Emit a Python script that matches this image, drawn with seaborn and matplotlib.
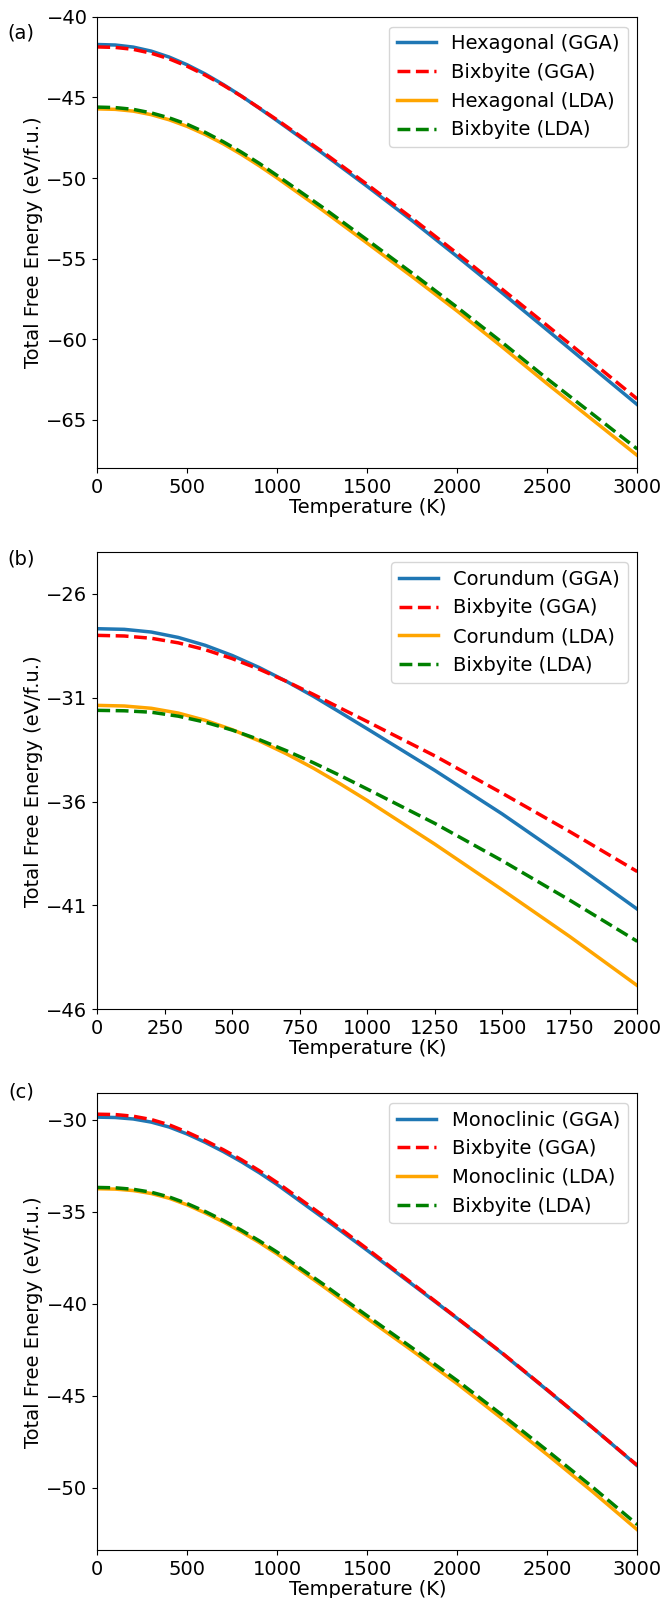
import matplotlib
matplotlib.use("Agg")
import matplotlib.pyplot as plt
import numpy as np
import seaborn as sns

# temperatures (K)
T_a = [0, 100, 200, 300, 400, 500, 600, 700, 800, 900, 1000, 1250, 1500, 1750, 2000, 2250, 2500, 2750, 3000]
T_b = [0, 100, 200, 300, 400, 500, 600, 700, 800, 900, 1000, 1250, 1500, 1750, 2000]
T_c = T_a

# (a) Hexagonal vs Bixbyite
hex_gga = [-41.72, -41.75, -41.88, -42.13, -42.50, -42.98, -43.55, -44.20, -44.91, -45.67, -46.45,
           -48.45, -50.52, -52.65, -54.87, -57.13, -59.43, -61.74, -64.05]
bix_gga_a = [-41.87, -41.90, -42.02, -42.26, -42.61, -43.07, -43.62, -44.24, -44.92, -45.65, -46.40,
             -48.36, -50.40, -52.50, -54.68, -56.90, -59.15, -61.42, -63.70]
hex_lda = [-45.71, -45.74, -45.85, -46.07, -46.39, -46.80, -47.30, -47.88, -48.53, -49.24, -50.00,
           -51.98, -54.04, -56.12, -58.25, -60.48, -62.76, -64.98, -67.20]
bix_lda_a = [-45.60, -45.63, -45.74, -45.96, -46.27, -46.67, -47.17, -47.75, -48.39, -49.09, -49.85,
             -51.80, -53.84, -55.90, -58.02, -60.20, -62.45, -64.62, -66.80]

# (b) Corundum vs Bixbyite
cor_gga = [-27.68, -27.71, -27.84, -28.10, -28.48, -28.97, -29.55, -30.21, -30.93, -31.71, -32.50,
           -34.50, -36.60, -38.85, -41.18]
bix_gga_b = [-28.00, -28.03, -28.14, -28.36, -28.69, -29.12, -29.63, -30.21, -30.84, -31.50, -32.15,
             -33.80, -35.60, -37.45, -39.37]
cor_lda = [-31.37, -31.40, -31.51, -31.74, -32.09, -32.54, -33.08, -33.70, -34.39, -35.15, -35.95,
           -38.05, -40.25, -42.50, -44.86]
bix_lda_b = [-31.61, -31.63, -31.70, -31.89, -32.18, -32.56, -33.02, -33.55, -34.13, -34.75, -35.40,
             -37.05, -38.85, -40.75, -42.73]

# (c) Monoclinic vs Bixbyite
mono_gga = [-29.86, -29.88, -29.96, -30.13, -30.40, -30.78, -31.23, -31.73, -32.28, -32.88, -33.53,
            -35.30, -37.10, -38.95, -40.80, -42.70, -44.70, -46.72, -48.80]
bix_gga_c = [-29.70, -29.72, -29.81, -29.99, -30.28, -30.68, -31.13, -31.63, -32.17, -32.77, -33.42,
             -35.18, -37.02, -38.90, -40.78, -42.68, -44.68, -46.72, -48.78]
mono_lda = [-33.75, -33.77, -33.85, -34.01, -34.27, -34.63, -35.07, -35.55, -36.09, -36.67, -37.30,
            -39.02, -40.80, -42.55, -44.35, -46.25, -48.20, -50.20, -52.28]
bix_lda_c = [-33.68, -33.70, -33.78, -33.94, -34.20, -34.56, -34.99, -35.47, -36.00, -36.58, -37.20,
             -38.90, -40.66, -42.40, -44.18, -46.05, -47.98, -49.95, -52.00]

plt.rcParams['font.family'] = ['DejaVu Sans']
plt.rcParams['font.size'] = 14

fig = plt.figure(figsize=(6.64, 15.98), dpi=100)
ax_a = fig.add_axes([0.1465, 0.7069, 0.8133, 0.2826])
ax_b = fig.add_axes([0.1465, 0.3684, 0.8133, 0.2860])
ax_c = fig.add_axes([0.1465, 0.0298, 0.8133, 0.2862])

panels = [
    (ax_a, T_a, "Hexagonal", hex_gga, bix_gga_a, hex_lda, bix_lda_a),
    (ax_b, T_b, "Corundum", cor_gga, bix_gga_b, cor_lda, bix_lda_b),
    (ax_c, T_c, "Monoclinic", mono_gga, bix_gga_c, mono_lda, bix_lda_c),
]

lw = 2.5
for ax, T, name, g1, g2, l1, l2 in panels:
    sns.lineplot(x=T, y=g1, ax=ax, color='#1f77b4', lw=lw, label=name + ' (GGA)')
    sns.lineplot(x=T, y=g2, ax=ax, color='red', lw=lw, ls='--', label='Bixbyite (GGA)')
    sns.lineplot(x=T, y=l1, ax=ax, color='orange', lw=lw, label=name + ' (LDA)')
    sns.lineplot(x=T, y=l2, ax=ax, color='green', lw=lw, ls='--', label='Bixbyite (LDA)')
    ax.set_xlim(0, T[-1])
    ax.set_xlabel('Temperature (K)', fontsize=14, labelpad=0.5)
    ax.set_ylabel('Total Free Energy (eV/f.u.)', fontsize=14)
    ax.yaxis.set_label_coords(-0.10, 0.5)
    ax.tick_params(labelsize=14)
    ax.legend(loc='upper right', fontsize=14)

ax_a.set_ylim(-68, -40)
ax_b.set_ylim(-46, -24)
ax_b.set_yticks([-46, -41, -36, -31, -26])
ax_b.set_xticks(np.arange(0, 2001, 250))
ax_c.set_ylim(-53.4, -28.55)

fig.text(21 / 664, 1 - 33 / 1598, '(a)', ha='center', va='center', fontsize=14)
fig.text(21 / 664, 1 - 559 / 1598, '(b)', ha='center', va='center', fontsize=14)
fig.text(21 / 664, 1 - 1092 / 1598, '(c)', ha='center', va='center', fontsize=14)

fig.savefig('out.png', dpi=100)
